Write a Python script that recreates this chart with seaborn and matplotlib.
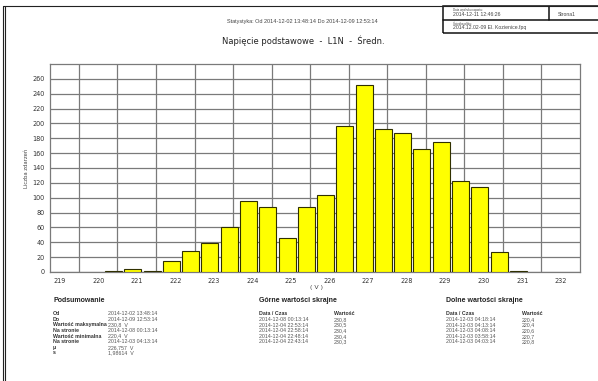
import matplotlib
matplotlib.use('Agg')
import matplotlib.pyplot as plt
from matplotlib.lines import Line2D
from matplotlib.patches import Rectangle
import seaborn as sns

# ── data ───────────────────────────────────────────────────────────────────
bin_centers = [220.4, 220.9, 221.4, 221.9, 222.4, 222.9, 223.4, 223.9,
               224.4, 224.9, 225.4, 225.9, 226.4, 226.9, 227.4, 227.9,
               228.4, 228.9, 229.4, 229.9, 230.4, 230.9]
counts = [2, 4, 2, 15, 28, 39, 60, 95, 88, 46, 87, 104,
          196, 252, 193, 187, 166, 175, 123, 114, 27, 2]
x_ticks = [219, 220, 221, 222, 223, 224, 225, 226, 227, 228, 229, 230, 231, 232]
x_grid = [219.5, 220.5, 221.5, 222.5, 223.5, 224.5, 225.5, 226.5,
          227.5, 228.5, 229.5, 230.5, 231.5]
y_ticks = [0, 20, 40, 60, 80, 100, 120, 140, 160, 180, 200, 220, 240, 260]

summary_labels = ['Od', 'Do', 'Wartość maksymalna', 'Na stronie',
                  'Wartość minimalna', 'Na stronie', 'μ', 's']
summary_values = ['2014-12-02 13:48:14', '2014-12-09 12:53:14', '230,8  V',
                  '2014-12-08 00:13:14', '220,4  V', '2014-12-03 04:13:14',
                  '226,757  V', '1,98614  V']
upper_times = ['2014-12-08 00:13:14', '2014-12-04 22:53:14', '2014-12-04 22:58:14',
               '2014-12-04 22:48:14', '2014-12-04 22:43:14']
upper_values = ['230,8', '230,5', '230,4', '230,4', '230,3']
lower_times = ['2014-12-03 04:18:14', '2014-12-03 04:13:14', '2014-12-03 04:08:14',
               '2014-12-03 03:58:14', '2014-12-03 04:03:14']
lower_values = ['220,4', '220,4', '220,6', '220,7', '220,8']

W, H = 598, 381


def px(x, y):
    return x / W, 1 - y / H


sns.set_style('white')
plt.rcParams['font.family'] = ['DejaVu Sans']

fig = plt.figure(figsize=(W / 100, H / 100), dpi=100)
ax = fig.add_axes([50 / W, 109 / H, 530 / W, 208 / H])

sns.barplot(x=bin_centers, y=counts, native_scale=True, width=0.88,
            color='#FFFF00', edgecolor='#303000', linewidth=0.8,
            saturation=1, errorbar=None, ax=ax, zorder=3)

ax.set_xlim(218.75, 232.5)
ax.set_ylim(0, 280)
ax.set_xticks(x_ticks)
ax.set_xticklabels([str(t) for t in x_ticks])
ax.set_xticks(x_grid, minor=True)
ax.set_yticks(y_ticks)
ax.set_yticks([280], minor=True)
ax.grid(False)
ax.grid(True, which='minor', axis='x', color='#7a7a7a', linewidth=0.9)
ax.grid(True, which='major', axis='y', color='#7a7a7a', linewidth=0.9)
ax.set_axisbelow(True)
ax.tick_params(axis='both', which='major', labelsize=4.7, colors='#444444',
               length=2.5, width=0.7, pad=1.5, labelcolor='#333333')
ax.tick_params(axis='both', which='minor', length=0)
for sp in ax.spines.values():
    sp.set_visible(True)
    sp.set_edgecolor('#7a7a7a')
    sp.set_linewidth(0.9)
ax.set_xlabel('')
ax.set_ylabel('')

# axis captions
fig.text(*px(27, 168), 'Liczba zdarzeń', rotation=90, fontsize=3.8,
         color='#444444', ha='center', va='center')
fig.text(*px(316, 288), '( V )', fontsize=4.5, color='#444444',
         ha='center', va='center')

# headings
fig.text(*px(303, 41), 'Napięcie podstawowe  -  L1N  -  Średn.', fontsize=6,
         color='#222222', ha='center', va='center')
fig.text(*px(302, 21), 'Statystyka: Od 2014-12-02 13:48:14 Do 2014-12-09 12:53:14',
         fontsize=4, family='Liberation Sans', color='#444444',
         ha='center', va='center')

# page frame
fig.add_artist(Line2D([3 / W, 3 / W], [0, 1 - 6 / H], color='#222222', lw=0.8))
fig.add_artist(Line2D([5 / W, 5 / W], [0, 1 - 6 / H], color='#222222', lw=0.8))
fig.add_artist(Line2D([3 / W, 1], [1 - 6 / H, 1 - 6 / H], color='#222222', lw=0.8))

# header box top right
fig.add_artist(Rectangle(px(443, 33), (W - 443 + 5) / W, 27 / H, fill=False,
                         edgecolor='#111111', lw=1.1))
fig.add_artist(Line2D([443 / W, 1], [1 - 20 / H, 1 - 20 / H], color='#111111', lw=1.1))
fig.add_artist(Line2D([549 / W, 549 / W], [1 - 7 / H, 1 - 20 / H], color='#111111', lw=1.1))
small = dict(family='Liberation Sans', color='#444444', ha='left', va='center')
fig.text(*px(453, 10.5), 'Data wydruku raportu:', fontsize=2.2, **small)
fig.text(*px(453, 15), '2014-12-11 12:46:26', fontsize=3.7, **small)
fig.text(*px(558, 14), 'Strona1', fontsize=3.7, **small)
fig.text(*px(453, 23.5), 'Ścieżka pliku:', fontsize=2.2, **small)
fig.text(*px(453, 28), '2014.12.02-09 El. Kozienice.fpq', fontsize=3.7, **small)

# summary tables
head = dict(family='Liberation Sans', fontsize=5, fontweight='bold',
            color='#222222', ha='left', va='center')
lab = dict(family='Liberation Sans', fontsize=3.8, fontweight='bold',
           color='#333333', ha='left', va='center')
val = dict(family='Liberation Sans', fontsize=3.8, color='#555555',
           ha='left', va='center')

fig.text(*px(53, 301), 'Podsumowanie', **head)
for i, (l, v) in enumerate(zip(summary_labels, summary_values)):
    y = 313.7 + i * 5.6
    fig.text(*px(53, y), l, **lab)
    fig.text(*px(108, y), v, **val)

fig.text(*px(259, 301), 'Górne wartości skrajne', **head)
fig.text(*px(259, 313.7), 'Data / Czas', **lab)
fig.text(*px(334, 313.7), 'Wartość', **lab)
for i, (t, v) in enumerate(zip(upper_times, upper_values)):
    y = 319.5 + i * 5.6
    fig.text(*px(259, y), t, **val)
    fig.text(*px(334, y), v, **val)

fig.text(*px(446, 301), 'Dolne wartości skrajne', **head)
fig.text(*px(446, 313.7), 'Data / Czas', **lab)
fig.text(*px(522, 313.7), 'Wartość', **lab)
for i, (t, v) in enumerate(zip(lower_times, lower_values)):
    y = 319.5 + i * 5.6
    fig.text(*px(446, y), t, **val)
    fig.text(*px(522, y), v, **val)

fig.savefig('out.png', dpi=100, facecolor='white')
plt.close(fig)
